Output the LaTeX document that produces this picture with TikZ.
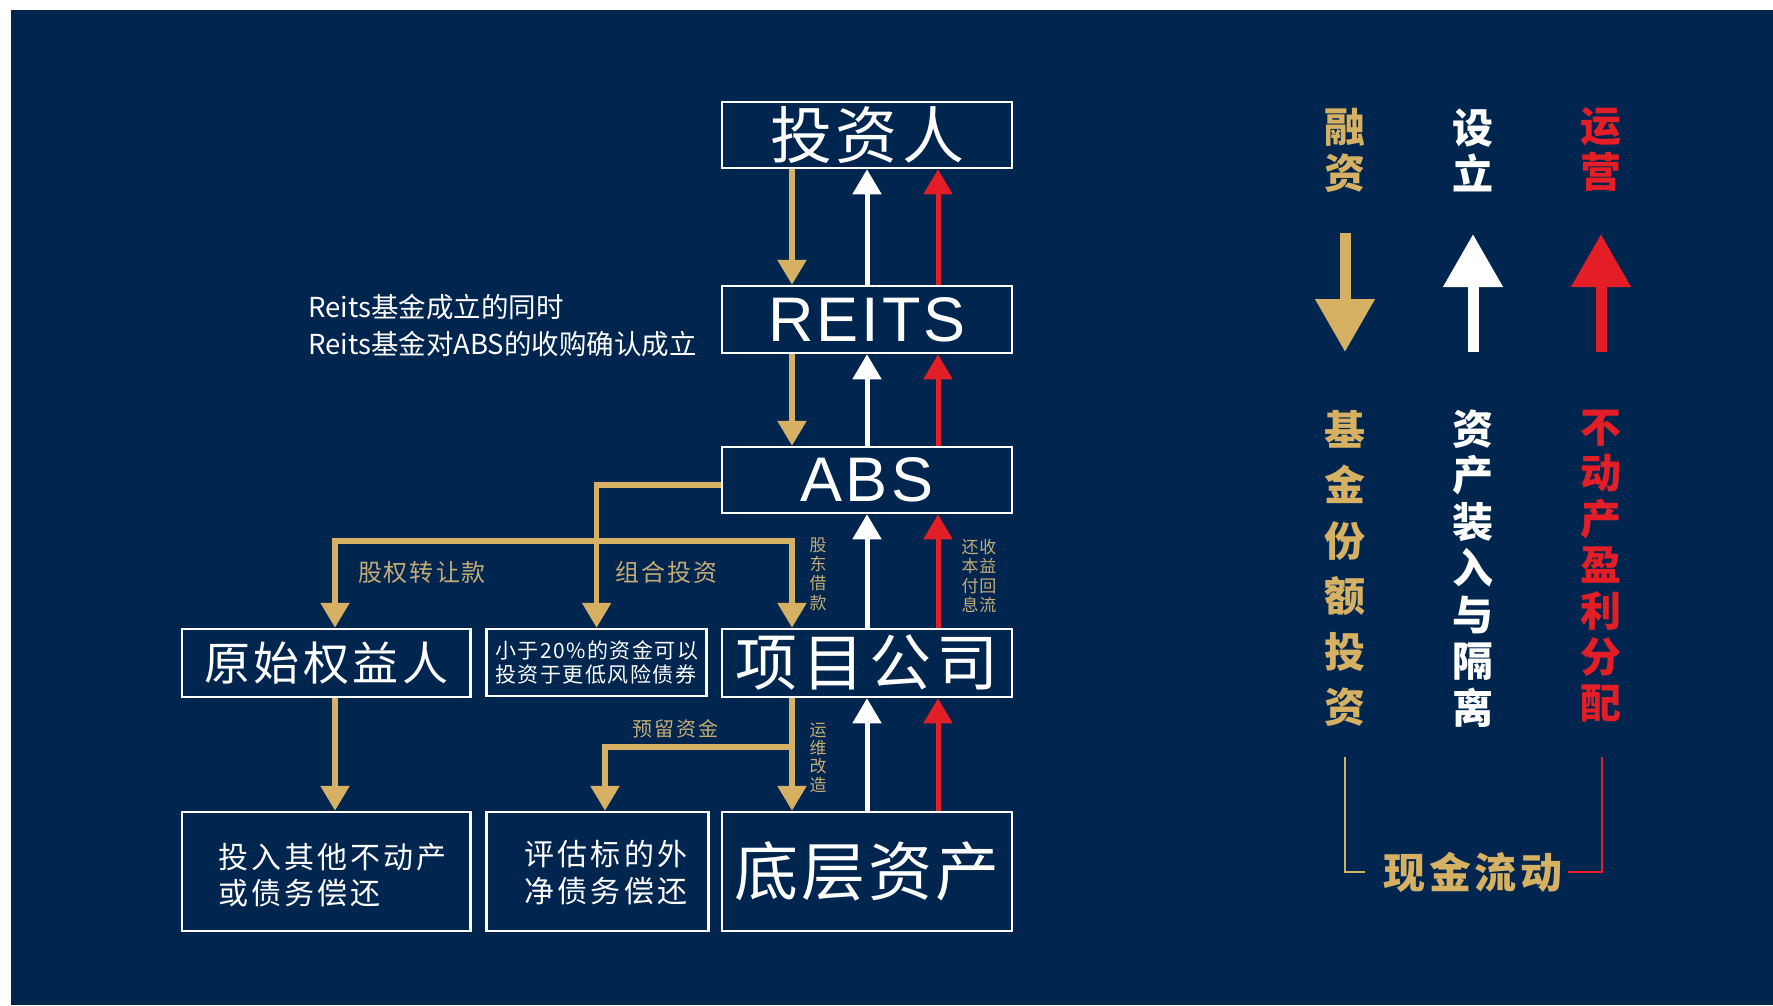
\documentclass[tikz,border=0pt]{standalone}
\usepackage{fontspec}
\setmainfont{Liberation Sans}
\newfontfamily\cjk{Noto Sans CJK SC}
\usetikzlibrary{arrows.meta}
\definecolor{navy}{RGB}{0,37,78}
\definecolor{gold}{RGB}{214,177,100}
\definecolor{goldtxt}{RGB}{196,172,118}
\definecolor{redc}{RGB}{228,30,38}
\makeatletter
\newcommand\spacedtext[2]{%
  \begingroup\let\st@sep\relax
  \@tfor\st@c:=#2\do{\st@sep\st@c\def\st@sep{\hspace{#1}}}%
  \endgroup}
\makeatother
\begin{document}
\begin{tikzpicture}[x=1pt,y=-1pt,
  box/.style={draw=white, line width=2.5pt, fill=navy, text=white, inner sep=0pt, minimum width=290pt, align=center},
  gline/.style={draw=gold, line width=5.5pt},
  garrow/.style={gline, -{Triangle[width=28pt,length=25pt]}},
  warrow/.style={draw=white, line width=5pt, -{Triangle[width=28pt,length=25pt]}},
  rarrow/.style={draw=redc, line width=5pt, -{Triangle[width=28pt,length=25pt]}},
  lbl/.style={text=goldtxt, inner sep=0pt, font=\cjk\fontsize{24}{24}\selectfont},
  vlbl/.style={text=goldtxt, inner sep=0pt, align=center, font=\cjk\fontsize{17}{19.3}\selectfont},
  legtxt/.style={inner sep=0pt, align=center},
  legarrow/.style={line width=11pt, -{Triangle[width=57pt,length=53pt]}},
  boxtxt/.style={text=white, inner sep=0pt, align=left, font=\cjk\fontsize{30}{36.5}\selectfont},
]
\useasboundingbox (0,0) rectangle (1773,1005);
\fill[white] (0,0) rectangle (1773,1005);
\fill[navy] (11,10) rectangle (1773,1005);

% main column
\node[box, minimum height=66pt, font=\cjk\fontsize{62}{62}\selectfont] (inv) at (867,135) {\spacedtext{4pt}{投资人}};
\node[box, minimum height=67pt, font=\fontsize{63}{63}\selectfont] (reits) at (867,319.5) {\spacedtext{3pt}{REITS}};
\node[box, minimum height=66pt, font=\fontsize{63}{63}\selectfont] (abs) at (867,480) {\spacedtext{3pt}{ABS}};
\node[box, minimum height=68pt, font=\cjk\fontsize{62}{62}\selectfont] (proj) at (867,663) {\spacedtext{5pt}{项目公司}};
\node[box, minimum height=119pt, font=\cjk\fontsize{64}{64}\selectfont] (base) at (867,871.5) {\spacedtext{3pt}{底层资产}};

% left boxes
\node[box, minimum width=288.6pt, minimum height=68pt, font=\cjk\fontsize{46}{46}\selectfont] (orig) at (326.3,663) {\spacedtext{3.5pt}{原始权益人}};
\node[box, minimum width=220pt, minimum height=67pt, align=left, font=\cjk\fontsize{21}{24}\selectfont] (small) at (596.6,662.5) {\spacedtext{1.5pt}{小于20\%的资金可以}\\\spacedtext{1.5pt}{投资于更低风险债券}};
\node[box, minimum width=288.6pt, minimum height=119pt] (invest) at (326.3,871.5) {};
\node[boxtxt] (investtxt) at (332.5,875) {\spacedtext{3pt}{投入其他不动产}\\\spacedtext{3pt}{或债务偿还}};
\node[box, minimum width=222pt, minimum height=119pt] (eval) at (597.6,871.5) {};
\node[boxtxt] (evaltxt) at (606,872.5) {\spacedtext{3.5pt}{评估标的外}\\\spacedtext{3.5pt}{净债务偿还}};

% annotation
\node[anchor=west, inner sep=0pt, align=left, text=white, font=\cjk\fontsize{27.5}{37}\selectfont] (note) at (308,325.5) {Reits基金成立的同时\\Reits基金对ABS的收购确认成立};

% column coordinates
\coordinate (cg) at (792,0);
\coordinate (cw) at (867,0);
\coordinate (cr) at (938,0);
\coordinate (xo) at (335,0);
\coordinate (xe) at (605,0);
\coordinate (hb) at (0,541);
\coordinate (hb2) at (0,747);

% investor <-> REITS
\draw[garrow] (inv.south -| cg) -- (reits.north -| cg);
\draw[warrow] (reits.north -| cw) -- (inv.south -| cw);
\draw[rarrow] (reits.north -| cr) -- (inv.south -| cr);
% REITS <-> ABS
\draw[garrow] (reits.south -| cg) -- (abs.north -| cg);
\draw[warrow] (abs.north -| cw) -- (reits.south -| cw);
\draw[rarrow] (abs.north -| cr) -- (reits.south -| cr);
% ABS <-> project company
\draw[warrow] (proj.north -| cw) -- (abs.south -| cw);
\draw[rarrow] (proj.north -| cr) -- (abs.south -| cr);
\draw[garrow] ([yshift=-5pt]abs.west) -| (small.north);
\draw[garrow] (small.north |- hb) -| (orig.north -| xo);
\draw[garrow] (small.north |- hb) -| (proj.north -| cg);
% project company <-> base asset
\draw[warrow] (base.north -| cw) -- (proj.south -| cw);
\draw[rarrow] (base.north -| cr) -- (proj.south -| cr);
\draw[garrow] (proj.south -| cg) -- (base.north -| cg);
\draw[garrow] (cg |- hb2) -| (eval.north -| xe);
% original owner
\draw[garrow] (orig.south -| xo) -- (invest.north -| xo);

% flow labels
\node[lbl] (l1) at (422,572) {\spacedtext{2pt}{股权转让款}};
\node[lbl] (l2) at (666.7,572) {\spacedtext{2pt}{组合投资}};
\node[vlbl] (l3) at (818,574) {股\\东\\借\\款};
\node[vlbl] (l4) at (979,576) {\spacedtext{1pt}{还收}\\\spacedtext{1pt}{本益}\\\spacedtext{1pt}{付回}\\\spacedtext{1pt}{息流}};
\node[lbl, font=\cjk\fontsize{20}{20}\selectfont] (l5) at (675,729) {\spacedtext{2pt}{预留资金}};
\node[vlbl, font=\cjk\fontsize{17}{18.3}\selectfont] (l6) at (818,757.5) {运\\维\\改\\造};

% legend
\node[legtxt, text=gold, font=\cjk\bfseries\fontsize{41}{46}\selectfont] (t1) at (1345,150) {融\\资};
\node[legtxt, text=white, font=\cjk\bfseries\fontsize{41}{46}\selectfont] (t2) at (1473,150) {设\\立};
\node[legtxt, text=redc, font=\cjk\bfseries\fontsize{41}{46}\selectfont] (t3) at (1601,150) {运\\营};
\coordinate (a1s) at (1345,233);
\coordinate (a1e) at (1345,352);
\coordinate (a2s) at (1473,352);
\coordinate (a2e) at (1473,234);
\coordinate (a3s) at (1601,352);
\coordinate (a3e) at (1601,234);
\draw[legarrow, draw=gold] (a1s) -- (a1e);
\draw[legarrow, draw=white] (a2s) -- (a2e);
\draw[legarrow, draw=redc] (a3s) -- (a3e);
\node[legtxt, text=gold, font=\cjk\bfseries\fontsize{41}{55.4}\selectfont] (t4) at (1345,568.5) {基\\金\\份\\额\\投\\资};
\node[legtxt, text=white, font=\cjk\bfseries\fontsize{41}{46.5}\selectfont] (t5) at (1473,568.5) {资\\产\\装\\入\\与\\隔\\离};
\node[legtxt, text=redc, font=\cjk\bfseries\fontsize{41}{46}\selectfont] (t6) at (1601,566) {不\\动\\产\\盈\\利\\分\\配};
\node[legtxt, text=gold, font=\cjk\bfseries\fontsize{42}{42}\selectfont] (t7) at (1473,872) {\spacedtext{4pt}{现金流动}};
\coordinate (b1) at (1345,757);
\coordinate (b2) at (1365,872);
\coordinate (b3) at (1602,757);
\coordinate (b4) at (1568,872);
\draw[gold, line width=2.5pt] (b1) |- (b2);
\draw[redc, line width=2.5pt] (b3) |- (b4);
\end{tikzpicture}
\end{document}
